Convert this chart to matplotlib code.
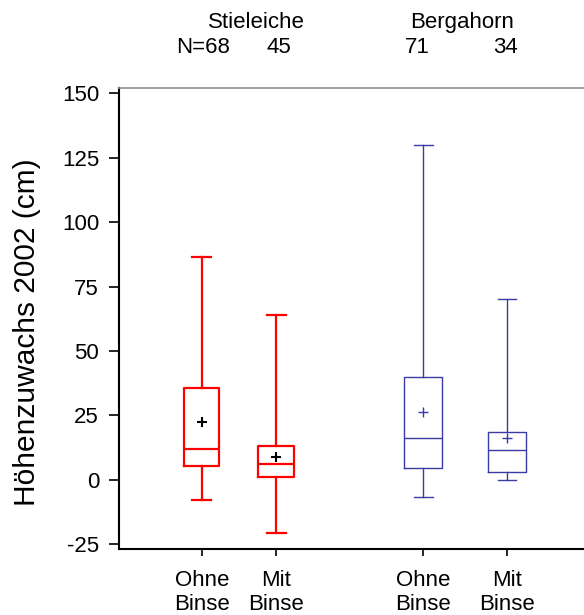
import matplotlib
matplotlib.use("Agg")
import matplotlib.pyplot as plt
from matplotlib.transforms import blended_transform_factory

plt.rcParams['font.family'] = ['Liberation Sans', 'DejaVu Sans']

# ---- data ----
species = ["Stieleiche", "Bergahorn"]
labels = ["Ohne\nBinse", "Mit\nBinse", "Ohne\nBinse", "Mit\nBinse"]
counts = ["N=68", "45", "71", "34"]
whislo = [-7.7, -20.8, -6.6, 0.1]
q1 = [5.3, 1.2, 4.5, 3.1]
med = [12.0, 6.2, 16.3, 11.5]
q3 = [35.6, 13.2, 40.0, 18.5]
whishi = [86.5, 64.0, 130.0, 70.0]
means = [22.6, 8.9, 26.4, 16.3]
yticks = [-25, 0, 25, 50, 75, 100, 125, 150]

# ---- layout ----
positions = [1.0, 1.906, 3.70, 4.72]
colors = ["#FF0000", "#FF0000", "#3B3BA6", "#3B3BA6"]
meancolors = ["black", "black", "#3B3BA6", "#3B3BA6"]
lws = [1.6, 1.6, 1.0, 1.0]
widths = [0.43, 0.43, 0.465, 0.465]
species_x = [1.662, 4.174]
count_x = [1.01, 1.943, 3.626, 4.699]

fig = plt.figure(figsize=(5.84, 6.15), dpi=100)
ax = fig.add_axes([118.5/584, 66.3/615, 1.02 - 118.5/584, (527 - 66.3)/615])

for i in range(4):
    st = [dict(whislo=whislo[i], q1=q1[i], med=med[i], q3=q3[i],
               whishi=whishi[i], mean=means[i], fliers=[])]
    c = colors[i]
    lw = lws[i]
    ax.bxp(st, positions=[positions[i]], widths=widths[i], showmeans=True,
           showfliers=False,
           boxprops=dict(color=c, linewidth=lw),
           whiskerprops=dict(color=c, linewidth=lw),
           capprops=dict(color=c, linewidth=lw),
           medianprops=dict(color=c, linewidth=lw),
           meanprops=dict(marker='+', markeredgecolor=meancolors[i],
                          markersize=7, markeredgewidth=1.5 if i < 2 else 1.0),
           capwidths=0.23, manage_ticks=False)

ax.set_xlim(-0.015, 5.80)
ax.set_ylim(-26.7, 152.0)
ax.set_yticks(yticks)
ax.set_yticklabels([str(t) for t in yticks], fontsize=16)
ax.set_xticks(positions)
ax.set_xticklabels(labels, fontsize=16, linespacing=1.2)
ax.tick_params(axis='y', length=7, width=1.2, pad=7, direction='out')
ax.tick_params(axis='x', length=5, width=1.2, pad=10, direction='out')

ax.spines['right'].set_visible(False)
ax.spines['top'].set_color('#909090')
ax.spines['top'].set_linewidth(1.2)
ax.spines['left'].set_linewidth(1.5)
ax.spines['bottom'].set_linewidth(1.5)

ax.set_ylabel("Höhenzuwachs 2002 (cm)", fontsize=21.5)
ax.yaxis.set_label_coords(-0.163, 0.470)

trans = blended_transform_factory(ax.transData, fig.transFigure)
for sx, s in zip(species_x, species):
    ax.text(sx, 0.964, s, fontsize=16, ha='center', va='center', transform=trans)
for cx, t in zip(count_x, counts):
    ax.text(cx, 0.922, t, fontsize=16, ha='center', va='center', transform=trans)

fig.savefig("out.png", dpi=100)
